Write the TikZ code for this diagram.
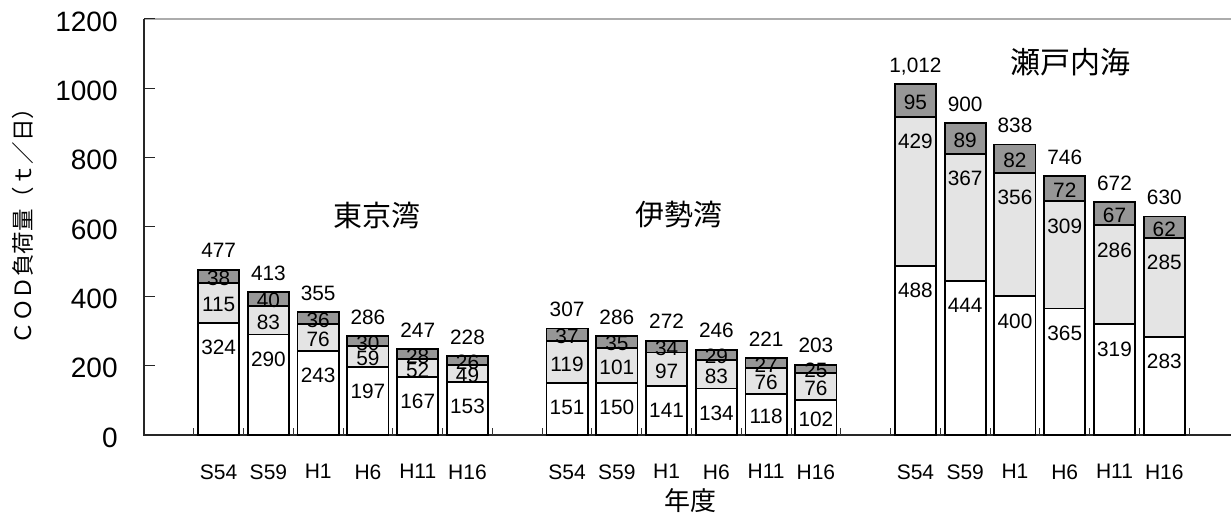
\documentclass[tikz,border=0pt]{standalone}
\usepackage{fontspec}
\setmainfont{Liberation Sans}
\newfontfamily\jp{Noto Sans CJK JP}
\definecolor{darkseg}{RGB}{150,150,150}
\definecolor{lightseg}{RGB}{228,228,228}
\tikzset{
  barseg/.style={draw=black, line width=0.9pt},
  vallabel/.style={inner sep=0pt, text depth=0pt, font=\fontsize{10.4}{12}\selectfont},
  catlabel/.style={inner sep=0pt, text depth=0pt, font=\fontsize{10.5}{12}\selectfont},
  ticklabel/.style={inner sep=0pt, text depth=0pt, anchor=east, font=\fontsize{14}{16}\selectfont},
  grouptitle/.style={inner sep=0pt, font=\jp\fontsize{14.5}{16}\selectfont},
}
\begin{document}
\begin{tikzpicture}[x=0.5pt,y=0.5pt]
\useasboundingbox (0,0) rectangle (1231,517);
\begin{scope}[yshift=41pt,y=0.173333pt]
  % frame
  \draw[line width=0.7pt, gray!65] (144,1200) -- (1231,1200);
  \draw[line width=0.6pt, black!85] (144,1200) -- (144,0) -- (1231,0);
  % y ticks and labels
  \foreach \v in {0,200,...,1200}{
    \draw[line width=0.5pt, black!85] (144,\v) -- (155,\v);
    \node[ticklabel] (y\v) at (118,\v-7) {\v};
  }
  % x ticks
  \foreach \k in {1,...,21}{
    \draw[line width=0.5pt, black!80] (144+\k*49.77,0) -- (144+\k*49.77,20);
  }
  % bars
  \foreach \i/\a/\b/\c/\t in {
    1/324/115/38/477, 2/290/83/40/413, 3/243/76/36/355, 4/197/59/30/286, 5/167/52/28/247, 6/153/49/26/228,
    8/151/119/37/307, 9/150/101/35/286, 10/141/97/34/272, 11/134/83/29/246, 12/118/76/27/221, 13/102/76/25/203,
    15/488/429/95/{1,012}, 16/444/367/89/900, 17/400/356/82/838, 18/365/309/72/746, 19/319/286/67/672, 20/283/285/62/630}{
    \pgfmathsetmacro\xc{144+(\i+0.5)*49.77}
    \pgfmathsetmacro\ab{\a+\b}
    \pgfmathsetmacro\abc{\a+\b+\c}
    \pgfmathsetmacro\la{max(\a/2,\a-66)-5}
    \pgfmathsetmacro\lb{max(\a+\b/2,\ab-66)-5}
    \pgfmathsetmacro\lc{max(\ab+\c/2,\abc-66)-5}
    \pgfmathsetmacro\lt{\abc+55}
    \draw[barseg, fill=white] (\xc-20.6,0) rectangle (\xc+20.6,\a);
    \draw[barseg, fill=lightseg] (\xc-20.6,\a) rectangle (\xc+20.6,\ab);
    \draw[barseg, fill=darkseg] (\xc-20.6,\ab) rectangle (\xc+20.6,\abc);
    \node[vallabel] (a\i) at (\xc,\la) {\a};
    \node[vallabel] (b\i) at (\xc,\lb) {\b};
    \node[vallabel] (c\i) at (\xc,\lc) {\c};
    \node[vallabel] (t\i) at (\xc,\lt) {\t};
  }
  % category labels
  \foreach \i/\s in {1/S54,2/S59,3/H1,4/H6,5/H11,6/H16,
                     8/S54,9/S59,10/H1,11/H6,12/H11,13/H16,
                     15/S54,16/S59,17/H1,18/H6,19/H11,20/H16}{
    \node[catlabel] (x\i) at (144+\i*49.77+24.885,-106) {\s};
  }
\end{scope}
% group titles
\node[grouptitle] (tokyo) at (376.7,302) {東京湾};
\node[grouptitle] (ise) at (678.8,302) {伊勢湾};
\node[grouptitle, font=\jp\fontsize{15}{16}\selectfont] (seto) at (1070,455.3) {瀬戸内海};
% axis titles
\node[inner sep=0pt, font=\jp\fontsize{13}{14}\selectfont] (xtitle) at (690,16) {年度};
\node[inner sep=0pt, rotate=90, font=\jp\fontsize{11.25}{12}\selectfont] (ytitle) at (23,296.5) {ＣＯＤ負荷量（ｔ／日）};
\end{tikzpicture}
\end{document}
